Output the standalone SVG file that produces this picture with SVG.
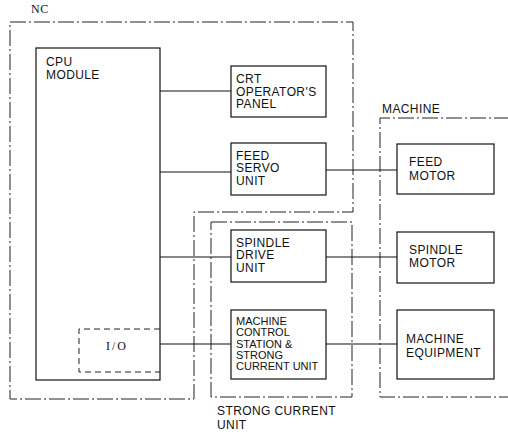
<svg xmlns="http://www.w3.org/2000/svg" width="508" height="434" viewBox="0 0 508 434">
<style>
.bg{fill:#fff}
.box{fill:#fff;stroke:#111;stroke-width:1.2}
.bnd{fill:none;stroke:#222;stroke-width:1;stroke-dasharray:16 3 2 3}
.io{fill:none;stroke:#222;stroke-width:1;stroke-dasharray:6 4}
.t{font-family:"Liberation Sans",Arial,sans-serif;font-size:12px;letter-spacing:0.4px;fill:#111}
.s{font-family:"Liberation Sans",Arial,sans-serif;font-size:11px;fill:#111}
.sf{font-family:"Liberation Serif","Times New Roman",serif;font-size:12px;fill:#111}
.c{fill:none;stroke:#111;stroke-width:1.1}
</style>
<rect class="bg" x="0" y="0" width="508" height="434"/>
<g id="boundaries">
<path class="bnd" d="M10,22 H353 V212 H194 V399 H10 Z"/>
<path class="bnd" d="M211,222 H352 V397 H211 Z"/>
<path class="bnd" d="M510,118 H380 V397 H510"/>
<text class="sf" x="31" y="13" font-size="11" letter-spacing="0.5">NC</text>
<text class="t" x="382" y="113">MACHINE</text>
<text class="t" x="217" y="415">STRONG CURRENT</text>
<text class="t" x="217" y="429">UNIT</text>
</g>
<g id="connectors">
<path class="c" d="M160,91 H231"/>
<path class="c" d="M160,172 H231"/>
<path class="c" d="M326,170 H397"/>
<path class="c" d="M160,257 H231"/>
<path class="c" d="M326,257 H397"/>
<path class="c" d="M160,344 H231"/>
<path class="c" d="M326,344 H397"/>
</g>
<g id="cpu">
<rect class="box" x="36" y="48" width="124" height="332"/>
<text class="t" x="46" y="66">CPU</text>
<text class="t" x="46" y="78.5">MODULE</text>
</g>
<g id="io">
<path class="io" d="M160,329 H79 V372 H160"/>
<text class="sf" x="117" y="350" text-anchor="middle" font-size="13" letter-spacing="2">I/O</text>
</g>
<g id="crt">
<rect class="box" x="231" y="66" width="95" height="51"/>
<text class="t" x="236" y="83">CRT</text>
<text class="t" x="236" y="95.5">OPERATOR'S</text>
<text class="t" x="236" y="108">PANEL</text>
</g>
<g id="feedservo">
<rect class="box" x="231" y="143" width="95" height="52"/>
<text class="t" x="236" y="159.5">FEED</text>
<text class="t" x="236" y="172">SERVO</text>
<text class="t" x="236" y="184.5">UNIT</text>
</g>
<g id="feedmotor">
<rect class="box" x="397" y="144" width="97" height="50"/>
<text class="t" x="409" y="166">FEED</text>
<text class="t" x="409" y="179.5">MOTOR</text>
</g>
<g id="spindledrive">
<rect class="box" x="231" y="230" width="95" height="52"/>
<text class="t" x="236" y="246.5">SPINDLE</text>
<text class="t" x="236" y="259">DRIVE</text>
<text class="t" x="236" y="271.5">UNIT</text>
</g>
<g id="spindlemotor">
<rect class="box" x="397" y="232" width="97" height="51"/>
<text class="t" x="409" y="253.5">SPINDLE</text>
<text class="t" x="409" y="267">MOTOR</text>
</g>
<g id="mcs">
<rect class="box" x="231" y="310" width="95" height="69"/>
<text class="s" x="236" y="324.5">MACHINE</text>
<text class="s" x="236" y="336">CONTROL</text>
<text class="s" x="236" y="347.5">STATION &amp;</text>
<text class="s" x="236" y="358.5">STRONG</text>
<text class="s" x="236" y="370">CURRENT UNIT</text>
</g>
<g id="equipment">
<rect class="box" x="397" y="310" width="97" height="69"/>
<text class="t" x="406" y="343">MACHINE</text>
<text class="t" x="406" y="356.5">EQUIPMENT</text>
</g>
</svg>
